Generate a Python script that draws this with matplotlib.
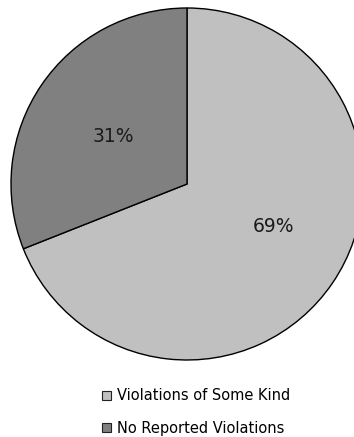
import matplotlib
matplotlib.use("Agg")
import matplotlib.pyplot as plt
from matplotlib.patches import Patch

categories = ["Violations of Some Kind", "No Reported Violations"]
shares = [69, 31]
colors = ["#c0c0c0", "#808080"]

W, H = 354, 437
fig = plt.figure(figsize=(W / 100, H / 100), dpi=100)

# pie centre and radius in pixels (from top-left)
cx, cy, r = 187, 184, 176
ax = fig.add_axes([(cx - r) / W, (H - cy - r) / H, 2 * r / W, 2 * r / H])
wedges, texts, autotexts = ax.pie(
    shares,
    colors=colors,
    startangle=90,
    counterclock=False,
    autopct="%d%%",
    pctdistance=0.53,
    wedgeprops=dict(edgecolor="black", linewidth=1.0),
    textprops=dict(fontsize=13.5, color="#1a1a1a"),
    radius=1.0,
)
# percentage label placement inside each wedge (axes units)
label_pos = [(0.49, -0.24), (-0.42, 0.27)]
for t, p in zip(autotexts, label_pos):
    t.set_position(p)

ax.set_xlim(-1, 1)
ax.set_ylim(-1, 1)
ax.set_aspect("equal")
ax.axis("off")

handles = [Patch(facecolor=c, edgecolor="#222222", linewidth=0.8) for c in colors]
fig.legend(
    handles,
    categories,
    loc="upper left",
    bbox_to_anchor=(94.5 / W, 1 - 381 / H),
    frameon=False,
    fontsize=10.5,
    handlelength=0.6,
    handleheight=0.6,
    handletextpad=0.45,
    labelspacing=1.2,
    borderpad=0,
)

fig.savefig("out.png", dpi=100)
